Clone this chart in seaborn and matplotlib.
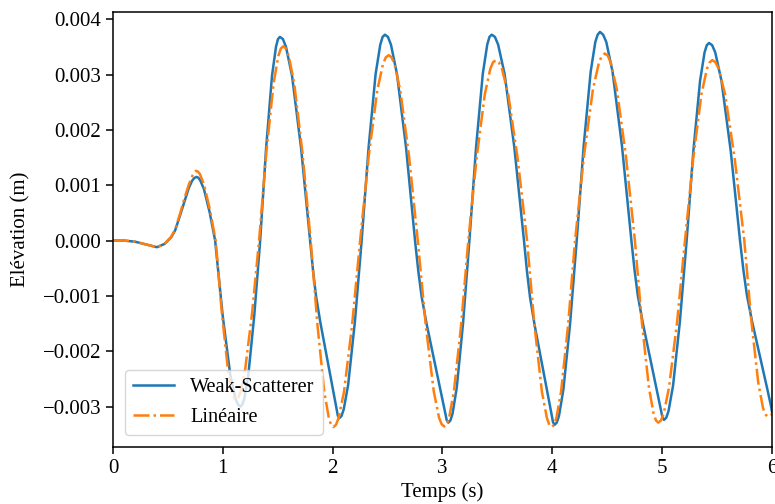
import matplotlib
matplotlib.use("Agg")
import matplotlib.pyplot as plt
import seaborn as sns
import pandas as pd

# ---- Data (time in s, elevation in m) ----
t_weak = [0.0, 0.1, 0.2, 0.3, 0.4, 0.47, 0.53, 0.565, 0.61, 0.65, 0.69, 0.72, 0.74, 0.76,
          0.777, 0.794, 0.828, 0.879, 0.93,
          0.999, 1.068, 1.114, 1.137, 1.16,
          1.178, 1.196, 1.232, 1.286, 1.34,
          1.394, 1.448, 1.484, 1.502, 1.52,
          1.5475, 1.575, 1.63, 1.7125, 1.795,
          1.8215, 1.848, 1.8878, 1.9275, 1.9673, 2.007, 2.0335, 2.0468, 2.06,
          2.0804, 2.1008, 2.1416, 2.2028, 2.264,
          2.3276, 2.3912, 2.4336, 2.4548, 2.476,
          2.5034, 2.5308, 2.5856, 2.6678, 2.75,
          2.7803, 2.8106, 2.8561, 2.9015, 2.947, 2.9924, 3.0227, 3.0379, 3.053,
          3.0722, 3.0914, 3.1298, 3.1874, 3.245,
          3.3059, 3.3668, 3.4074, 3.4277, 3.448,
          3.4774, 3.5068, 3.5656, 3.6538, 3.742,
          3.7698, 3.7976, 3.8393, 3.881, 3.9227, 3.9644, 3.9922, 4.0061, 4.02,
          4.0402, 4.0604, 4.1008, 4.1614, 4.222,
          4.2856, 4.3492, 4.3916, 4.4128, 4.434,
          4.4626, 4.4912, 4.5484, 4.6342, 4.72,
          4.7497, 4.7794, 4.824, 4.8685, 4.9131, 4.9576, 4.9873, 5.0022, 5.017,
          5.0376, 5.0582, 5.0994, 5.1612, 5.223,
          5.2842, 5.3454, 5.3862, 5.4066, 5.427,
          5.4552, 5.4834, 5.5398, 5.6244, 5.709,
          5.7401, 5.7712, 5.8179, 5.8645, 5.9112, 5.9578, 5.9889, 6.0]
v_weak = [0.0, 0.0, -0.00002, -0.00007, -0.00012, -0.00006, 0.00006, 0.00018, 0.00045, 0.00070, 0.00095, 0.00108, 0.00113, 0.00115,
          0.001136, 0.00109, 0.00093, 0.00052, 0.0,
          -0.00136, -0.00243, -0.00285, -0.00296, -0.0030,
          -0.00296, -0.00285, -0.00243, -0.00136, 0.0,
          0.00167, 0.00298, 0.0035, 0.00364, 0.00368,
          0.00364, 0.0035, 0.00298, 0.00167, 0.0,
          -0.000546, -0.000995, -0.001477, -0.001894, -0.002311, -0.002729, -0.003017, -0.003162, -0.00321,
          -0.00317, -0.00305, -0.0026, -0.00146, 0.0,
          0.00169, 0.00301, 0.00354, 0.00368, 0.00372,
          0.00368, 0.00354, 0.00301, 0.00169, 0.0,
          -0.000559, -0.00102, -0.001513, -0.001941, -0.002369, -0.002797, -0.003093, -0.003241, -0.00329,
          -0.00325, -0.00313, -0.00266, -0.00149, 0.0,
          0.00169, 0.00301, 0.00354, 0.00368, 0.00372,
          0.00368, 0.00354, 0.00301, 0.00169, 0.0,
          -0.000566, -0.001032, -0.001532, -0.001965, -0.002398, -0.00283, -0.00313, -0.00328, -0.00333,
          -0.00329, -0.00317, -0.00269, -0.00151, 0.0,
          0.00171, 0.00305, 0.00359, 0.00372, 0.00377,
          0.00372, 0.00359, 0.00305, 0.00171, 0.0,
          -0.000551, -0.001004, -0.00149, -0.001912, -0.002333, -0.002754, -0.003046, -0.003191, -0.00324,
          -0.0032, -0.00308, -0.00262, -0.00147, 0.0,
          0.00162, 0.00289, 0.0034, 0.00353, 0.00357,
          0.00353, 0.0034, 0.00289, 0.00162, 0.0,
          -0.000537, -0.00098, -0.001454, -0.001864, -0.002275, -0.002686, -0.00297, -0.00309]

t_lin = [0.0, 0.1, 0.2, 0.3, 0.4, 0.47, 0.53, 0.565, 0.61, 0.65, 0.69, 0.72, 0.74, 0.756,
         0.7739, 0.7918, 0.8276, 0.8813, 0.935,
         0.9905, 1.046, 1.083, 1.1015, 1.12,
         1.141, 1.162, 1.204, 1.267, 1.33,
         1.396, 1.462, 1.506, 1.528, 1.55,
         1.575, 1.60, 1.65, 1.725, 1.80,
         1.8618, 1.9236, 1.9648, 1.9854, 2.006,
         2.0304, 2.0548, 2.1036, 2.1768, 2.25,
         2.328, 2.406, 2.458, 2.484, 2.51,
         2.5365, 2.563, 2.616, 2.6955, 2.775,
         2.8476, 2.9202, 2.9686, 2.9928, 3.017,
         3.0388, 3.0606, 3.1042, 3.1696, 3.235,
         3.31, 3.385, 3.435, 3.46, 3.485,
         3.5135, 3.542, 3.599, 3.6845, 3.77,
         3.8375, 3.905, 3.95, 3.9725, 3.995,
         4.0162, 4.0374, 4.0798, 4.1434, 4.207,
         4.2883, 4.3696, 4.4238, 4.4509, 4.478,
         4.5054, 4.5328, 4.5876, 4.6698, 4.752,
         4.8159, 4.8798, 4.9224, 4.9437, 4.965,
         4.9893, 5.0136, 5.0622, 5.1351, 5.208,
         5.2827, 5.3574, 5.4072, 5.4321, 5.457,
         5.4861, 5.5152, 5.5734, 5.6607, 5.748,
         5.8116, 5.8752, 5.9176, 5.9388, 5.96, 6.0]
v_lin = [0.0, 0.0, -0.00002, -0.00007, -0.00012, -0.00006, 0.00007, 0.0002, 0.00048, 0.00076, 0.00101, 0.00116, 0.00123, 0.00126,
         0.001245, 0.0012, 0.00102, 0.00057, 0.0,
         -0.0013, -0.00232, -0.00273, -0.00284, -0.00287,
         -0.00284, -0.00273, -0.00232, -0.0013, 0.0,
         0.00159, 0.00284, 0.00334, 0.00347, 0.00351,
         0.00347, 0.00334, 0.00284, 0.00159, 0.0,
         -0.00153, -0.00273, -0.0032, -0.00333, -0.00337,
         -0.00333, -0.0032, -0.00273, -0.00153, 0.0,
         0.00152, 0.00271, 0.00319, 0.00331, 0.00335,
         0.00331, 0.00319, 0.00271, 0.00152, 0.0,
         -0.00153, -0.00272, -0.0032, -0.00332, -0.00336,
         -0.00332, -0.0032, -0.00272, -0.00153, 0.0,
         0.00148, 0.00264, 0.0031, 0.00322, 0.00326,
         0.00322, 0.0031, 0.00264, 0.00148, 0.0,
         -0.00153, -0.00273, -0.0032, -0.00333, -0.00337,
         -0.00333, -0.0032, -0.00273, -0.00153, 0.0,
         0.00153, 0.00273, 0.00321, 0.00334, 0.00338,
         0.00334, 0.00321, 0.00273, 0.00153, 0.0,
         -0.00149, -0.00266, -0.00313, -0.00325, -0.00329,
         -0.00325, -0.00313, -0.00266, -0.00149, 0.0,
         0.00148, 0.00264, 0.0031, 0.00322, 0.00326,
         0.00322, 0.0031, 0.00264, 0.00148, 0.0,
         -0.00144, -0.00257, -0.00302, -0.00314, -0.00318, -0.00314]

label_weak = "Weak-Scatterer"
label_lin = "Linéaire"
xlabel = "Temps (s)"
ylabel = "Elévation (m)"
yticks = [-0.003, -0.002, -0.001, 0.0, 0.001, 0.002, 0.003, 0.004]
ytick_labels = ["\u22120.003", "\u22120.002", "\u22120.001", "0.000", "0.001", "0.002", "0.003", "0.004"]
xticks = [0, 1, 2, 3, 4, 5, 6]

df_weak = pd.DataFrame({"t": t_weak, "v": v_weak})
df_lin = pd.DataFrame({"t": t_lin, "v": v_lin})

plt.rcParams["font.family"] = ["Liberation Serif", "DejaVu Serif"]
plt.rcParams["font.size"] = 15
plt.rcParams["axes.linewidth"] = 1.1
plt.rcParams["xtick.major.size"] = 5
plt.rcParams["ytick.major.size"] = 5
plt.rcParams["xtick.major.width"] = 1.1
plt.rcParams["ytick.major.width"] = 1.1

fig = plt.figure(figsize=(7.75, 5.04), dpi=100)
ax = fig.add_axes([0.1458, 0.1131, 0.8503, 0.8631])

sns.lineplot(data=df_weak, x="t", y="v", ax=ax, color="#1f77b4", linewidth=1.8,
             estimator=None, sort=False, label=label_weak)
sns.lineplot(data=df_lin, x="t", y="v", ax=ax, color="#ff7f0e", linewidth=1.8,
             linestyle="-.", estimator=None, sort=False, label=label_lin)

ax.set_xlim(0, 6)
ax.set_ylim(-0.00373, 0.00413)
ax.set_yticks(yticks)
ax.set_yticklabels(ytick_labels)
ax.set_xticks(xticks)
ax.set_xlabel(xlabel, labelpad=3)
ax.set_ylabel(ylabel, labelpad=9)
ax.legend(loc="lower left", framealpha=0.8, fontsize=14.6, borderaxespad=0.6)

fig.savefig("out.png", dpi=100)
